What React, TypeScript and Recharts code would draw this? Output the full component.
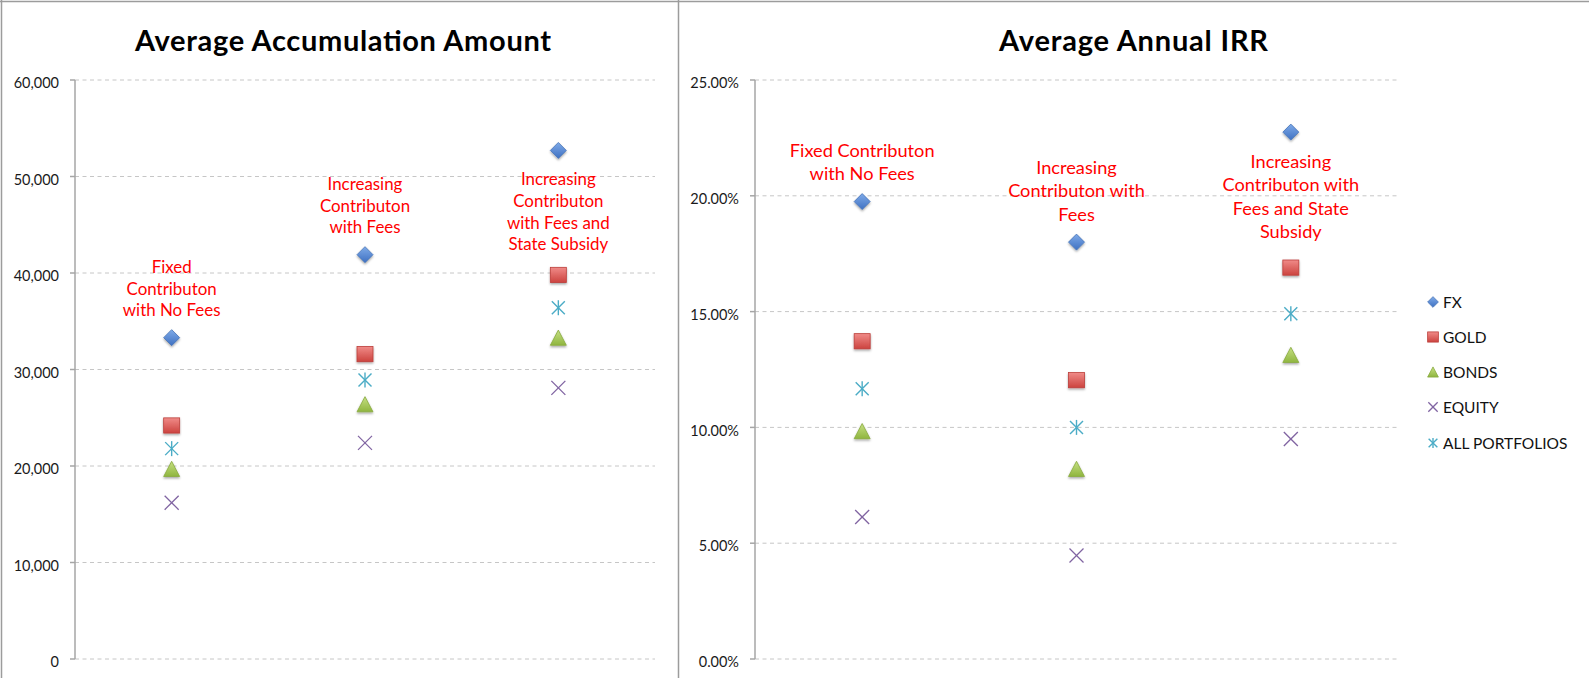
import React from "react";
import { ScatterChart, Scatter, XAxis, YAxis, CartesianGrid, Legend } from "recharts";

// categories (x positions 1..3) and the red notes drawn next to the FX points
const categories = [
  "Fixed Contributon with No Fees",
  "Increasing Contributon with Fees",
  "Increasing Contributon with Fees and State Subsidy",
];
const catIndex = [1, 2, 3];
const accNotes = [
  ["Fixed", "Contributon", "with No Fees"],
  ["Increasing", "Contributon", "with Fees"],
  ["Increasing", "Contributon", "with Fees and", "State Subsidy"],
];
const irrNotes = [
  ["Fixed Contributon", "with No Fees"],
  ["Increasing", "Contributon with", "Fees"],
  ["Increasing", "Contributon with", "Fees and State", "Subsidy"],
];
const notePlacement = ["above", "above", "below"];

const seriesNames = ["FX", "GOLD", "BONDS", "EQUITY", "ALL PORTFOLIOS"];

// Average Accumulation Amount
const accFX = [33300, 41900, 52700];
const accGOLD = [24200, 31600, 39800];
const accBONDS = [19700, 26400, 33300];
const accEQUITY = [16200, 22400, 28100];
const accALL = [21800, 28900, 36400];
const accTicks = [0, 10000, 20000, 30000, 40000, 50000, 60000];

// Average Annual IRR (percent)
const irrFX = [19.75, 18.0, 22.75];
const irrGOLD = [13.72, 12.04, 16.9];
const irrBONDS = [9.84, 8.21, 13.13];
const irrEQUITY = [6.13, 4.47, 9.5];
const irrALL = [11.67, 10.0, 14.91];
const irrTicks = [0, 5, 10, 15, 20, 25];

const FONT = "Lato, 'Open Sans', sans-serif";
const AXIS = "#a6a6a6";

const toPoints = (vals: number[]) => vals.map((y, i) => ({ x: catIndex[i], y, cat: categories[i] }));

function Marker({ kind, cx, cy, s = 1 }: { kind: string; cx: number; cy: number; s?: number }) {
  const h = 8 * s;
  if (kind === "FX") {
    return (
      <polygon
        points={`${cx},${cy - h} ${cx + h},${cy} ${cx},${cy + h} ${cx - h},${cy}`}
        fill="url(#gFX)"
        stroke="#4673b8"
        strokeWidth={0.8}
        filter={s === 1 ? "url(#mshadow)" : undefined}
      />
    );
  }
  if (kind === "GOLD") {
    return (
      <rect
        x={cx - h}
        y={cy - h * 0.95}
        width={2 * h}
        height={1.9 * h}
        fill="url(#gGOLD)"
        stroke="#bc3f3b"
        strokeWidth={0.8}
        filter={s === 1 ? "url(#mshadow)" : undefined}
      />
    );
  }
  if (kind === "BONDS") {
    return (
      <polygon
        points={`${cx},${cy - h * 0.95} ${cx + h},${cy + h * 0.95} ${cx - h},${cy + h * 0.95}`}
        fill="url(#gBONDS)"
        stroke="#88aa3e"
        strokeWidth={0.8}
        filter={s === 1 ? "url(#mshadow)" : undefined}
      />
    );
  }
  if (kind === "EQUITY") {
    const d = 7 * s;
    return (
      <g stroke="#8064a2" strokeWidth={1.3}>
        <line x1={cx - d} y1={cy - d} x2={cx + d} y2={cy + d} />
        <line x1={cx - d} y1={cy + d} x2={cx + d} y2={cy - d} />
      </g>
    );
  }
  const d = 6.5 * s;
  return (
    <g stroke="#4bacc6" strokeWidth={1.4}>
      <line x1={cx} y1={cy - 7.5 * s} x2={cx} y2={cy + 7.5 * s} />
      <line x1={cx - d} y1={cy - d} x2={cx + d} y2={cy + d} />
      <line x1={cx - d} y1={cy + d} x2={cx + d} y2={cy - d} />
    </g>
  );
}

const kinds = ["FX", "GOLD", "BONDS", "EQUITY", "ALL"];

function noteShape(notes: string[][], fontSize: number, lineH: number, aboveGap: number, belowGap: number) {
  return (p: any) => {
    const i = catIndex.indexOf(p.payload.x);
    const lines = notes[i];
    const first =
      notePlacement[i] === "above" ? p.cy - aboveGap - (lines.length - 1) * lineH : p.cy + belowGap;
    return (
      <text textAnchor="middle" fill="#ff0000" fontSize={fontSize} fontFamily={FONT}>
        {lines.map((l, k) => (
          <tspan key={k} x={p.cx} y={first + k * lineH}>
            {l}
          </tspan>
        ))}
      </text>
    );
  };
}

function renderLegend() {
  return (
    <div style={{ fontFamily: FONT, fontSize: 15.5, color: "#111" }}>
      {seriesNames.map((n, i) => (
        <div key={n} style={{ height: 35.25, display: "flex", alignItems: "center" }}>
          <svg width={12} height={12}>
            <Marker kind={kinds[i]} cx={6} cy={6} s={0.67} />
          </svg>
          <span style={{ marginLeft: 4 }}>{n}</span>
        </div>
      ))}
    </div>
  );
}

function Panel({
  width,
  series,
  notes,
  ticks,
  domain,
  fmt,
  axisWidth,
  rightMargin,
  noteFont,
  noteLine,
  belowGap,
  legend,
}: any) {
  return (
    <ScatterChart width={width} height={678} margin={{ top: 80, right: rightMargin, bottom: 19, left: 0 }}>
      <CartesianGrid vertical={false} stroke="#c6c6c6" strokeDasharray="4 3.5" />
      <XAxis type="number" dataKey="x" domain={[0.5, 3.5]} hide />
      <YAxis
        type="number"
        dataKey="y"
        domain={domain}
        ticks={ticks}
        interval={0}
        tickFormatter={fmt}
        width={axisWidth}
        tickSize={5}
        tickMargin={11}
        axisLine={{ stroke: AXIS, strokeWidth: 1.5 }}
        tickLine={{ stroke: AXIS, strokeWidth: 1.5 }}
        tick={{ fill: "#1a1a1a", fontSize: 14.5, fontFamily: FONT, dy: 3 }}
      />
      {legend && (
        <Legend
          layout="vertical"
          align="center"
          verticalAlign="middle"
          content={renderLegend}
          wrapperStyle={{ left: 749, top: 284, width: 160 }}
        />
      )}
      {series.map((vals: number[], i: number) => (
        <Scatter
          key={seriesNames[i]}
          name={seriesNames[i]}
          data={toPoints(vals)}
          isAnimationActive={false}
          shape={(p: any) => <Marker kind={kinds[i]} cx={p.cx} cy={p.cy} />}
        />
      ))}
      <Scatter
        name="notes"
        legendType="none"
        data={toPoints(series[0])}
        isAnimationActive={false}
        shape={noteShape(notes, noteFont, noteLine, 21.5, belowGap)}
      />
    </ScatterChart>
  );
}

export default function App() {
  return (
    <div style={{ position: "absolute", left: 0, top: 0, width: 1589, height: 678, background: "#fff" }}>
      <svg width={0} height={0} style={{ position: "absolute" }}>
        <defs>
          <linearGradient id="gFX" x1="0" y1="0" x2="0" y2="1">
            <stop offset="0" stopColor="#7eaae8" />
            <stop offset="1" stopColor="#3f71c2" />
          </linearGradient>
          <linearGradient id="gGOLD" x1="0" y1="0" x2="0" y2="1">
            <stop offset="0" stopColor="#f08b88" />
            <stop offset="1" stopColor="#cc433f" />
          </linearGradient>
          <linearGradient id="gBONDS" x1="0" y1="0" x2="0" y2="1">
            <stop offset="0" stopColor="#c6e083" />
            <stop offset="1" stopColor="#8fb53f" />
          </linearGradient>
          <filter id="mshadow" x="-50%" y="-50%" width="200%" height="200%">
            <feDropShadow dx="0" dy="1.5" stdDeviation="1" floodOpacity="0.35" />
          </filter>
        </defs>
      </svg>
      <div style={{ position: "absolute", left: 0, top: 0 }}>
        <Panel
          width={678}
          series={[accFX, accGOLD, accBONDS, accEQUITY, accALL]}
          notes={accNotes}
          ticks={accTicks}
          domain={[0, 60000]}
          fmt={(v: number) => v.toLocaleString("en-US")}
          axisWidth={75}
          rightMargin={23}
          noteFont={16.9}
          noteLine={21.6}
          belowGap={35}
        />
      </div>
      <div style={{ position: "absolute", left: 678, top: 0 }}>
        <Panel
          width={911}
          series={[irrFX, irrGOLD, irrBONDS, irrEQUITY, irrALL]}
          notes={irrNotes}
          ticks={irrTicks}
          domain={[0, 25]}
          fmt={(v: number) => `${v.toFixed(2)}%`}
          axisWidth={77}
          rightMargin={191}
          noteFont={18.2}
          noteLine={23.3}
          belowGap={36}
          legend
        />
      </div>
      <svg width={1589} height={678} style={{ position: "absolute", left: 0, top: 0, pointerEvents: "none" }}>
        <line x1={0} y1={1.5} x2={1589} y2={1.5} stroke="#9c9c9c" strokeWidth={1.5} />
        <line x1={1.5} y1={0} x2={1.5} y2={678} stroke="#9c9c9c" strokeWidth={1.5} />
        <line x1={678.5} y1={0} x2={678.5} y2={678} stroke="#9c9c9c" strokeWidth={1.5} />
        <text
          x={343}
          y={51}
          textAnchor="middle"
          fontFamily={FONT}
          fontWeight={700}
          fontSize={29}
          fill="#000"
          textLength={416}
          lengthAdjust="spacing"
        >
          Average Accumulation Amount
        </text>
        <text
          x={1133.5}
          y={51}
          textAnchor="middle"
          fontFamily={FONT}
          fontWeight={700}
          fontSize={29}
          fill="#000"
          textLength={269}
          lengthAdjust="spacing"
        >
          Average Annual IRR
        </text>
      </svg>
    </div>
  );
}
